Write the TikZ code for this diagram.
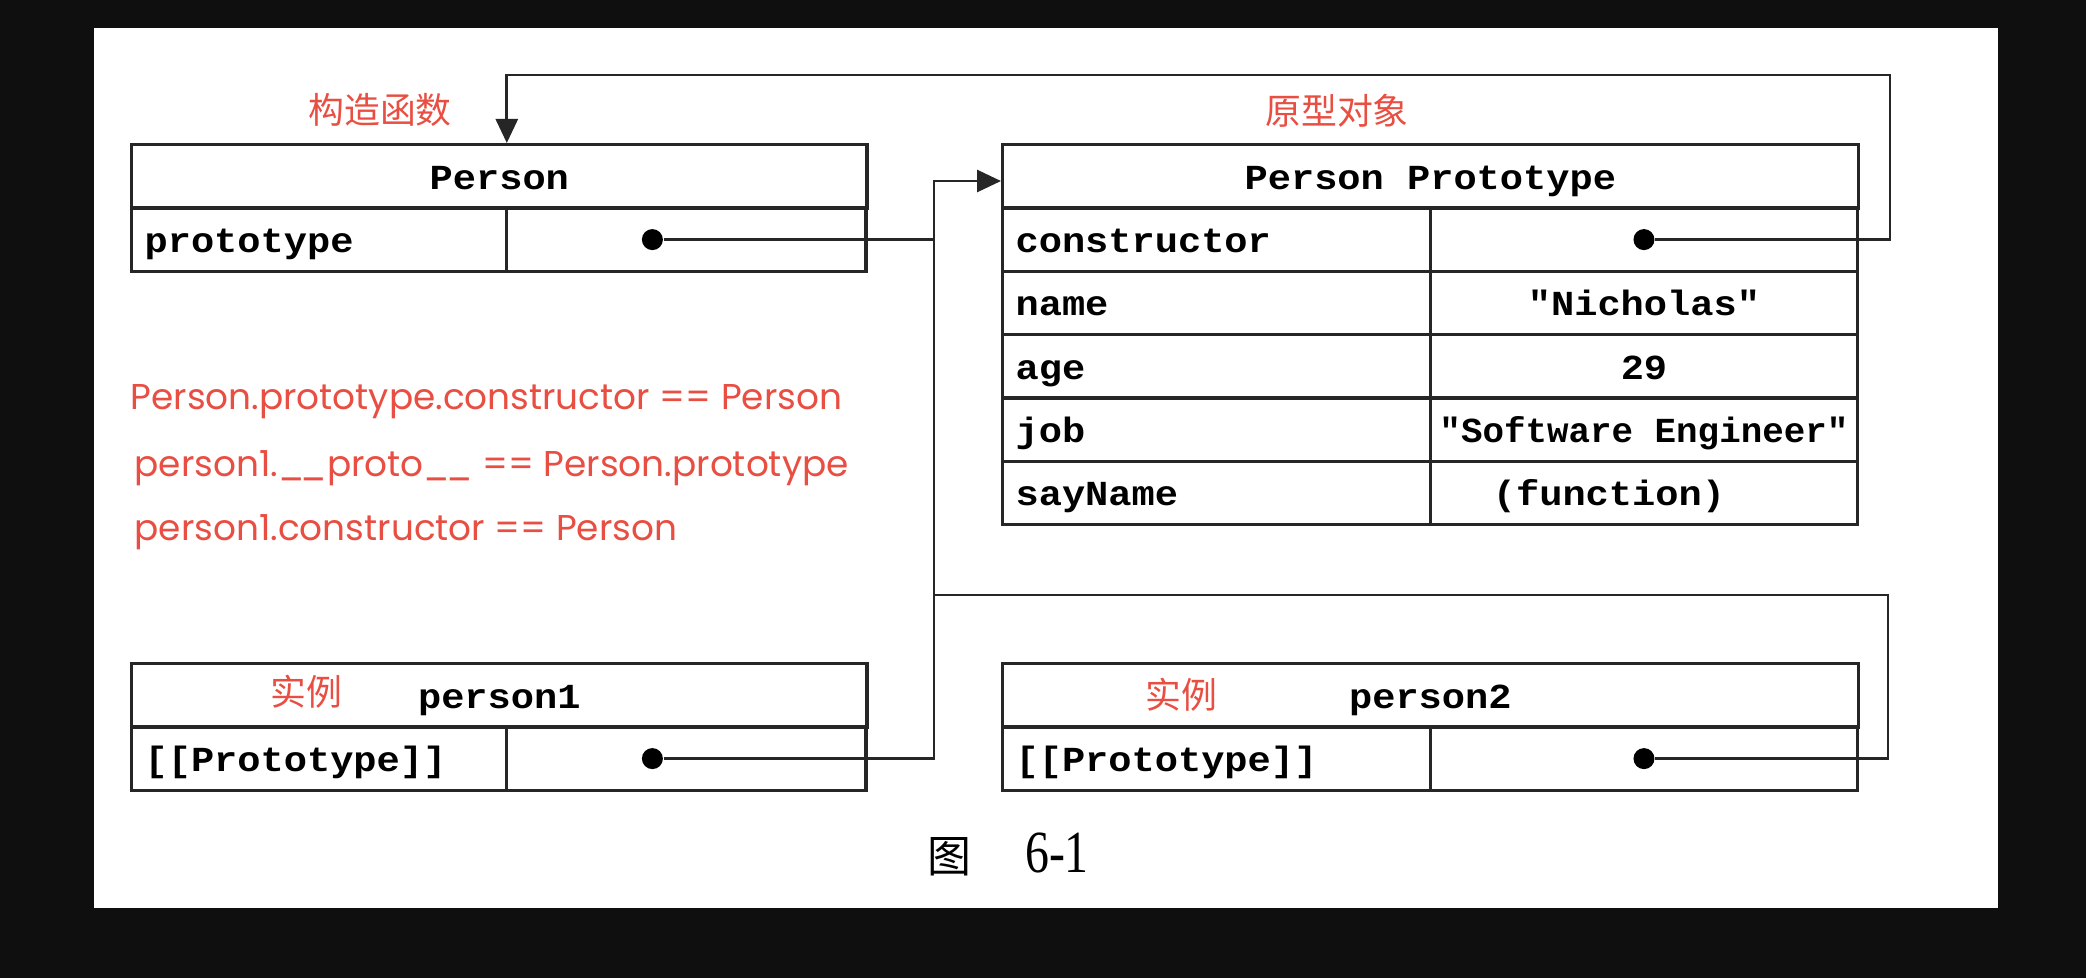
\documentclass[tikz,border=0pt]{standalone}
\usepackage{fontspec}
\newfontfamily\codefont{Liberation Mono}[FakeStretch=1.1]
\newfontfamily\codenarrow{Liberation Mono}[FakeStretch=1.02]
\newfontfamily\notefont{Poppins}
\newfontfamily\cjk{Noto Sans CJK SC}
\newfontfamily\capfont{Liberation Serif}[FakeStretch=0.8]
\usetikzlibrary{matrix,positioning,calc,arrows.meta}
\definecolor{bgdark}{RGB}{15,15,15}
\definecolor{notered}{RGB}{233,78,66}
\newcommand{\codesize}{\fontsize{10}{12}\selectfont}
\tikzset{
objrows/.style 2 args={matrix of nodes,nodes in empty cells,
nodes={draw=black!85,line width=0.9pt,minimum height=0.633cm,inner ysep=0pt,text height=0.3cm,text depth=0.04cm,font=\codefont\bfseries\codesize,anchor=center},
row sep=-0.9pt,column sep=-0.9pt,ampersand replacement=\&,inner sep=0pt,outer sep=0pt,anchor=north west,
column 1/.style={nodes={text width=#1,inner xsep=1.3mm,align=left}},
column 2/.style={nodes={minimum width=#2,inner xsep=0.3mm}}},
hdr/.style={draw=black!85,line width=0.9pt,minimum height=0.633cm,inner sep=0pt,text height=0.3cm,text depth=0.04cm,font=\codefont\bfseries\codesize,anchor=north west},
squeeze/.style={font=\codenarrow\bfseries\codesize},
dot/.style={circle,fill=black,minimum width=0.19cm,minimum height=0.21cm,inner sep=0pt},
link/.style={line width=0.8pt,black!85},
ptr/.style={-{Triangle[length=2.4mm,width=2.2mm]}},
cnnote/.style={font=\cjk\fontsize{10.2}{12}\selectfont,text=notered,inner sep=0pt},
eqnote/.style={font=\notefont\fontsize{10.2}{12}\selectfont,text=notered,inner sep=0pt,anchor=west}
}
\newcommand{\uu}{\_\kern-0.1em\_}

\begin{document}
\begin{tikzpicture}[x=0.01cm,y=-0.01cm]
% page and paper
\fill[bgdark] (0,0) rectangle (2086,978);
\fill[white] (94,28) rectangle (1998,908);

% constructor
\node[hdr,minimum width=7.35cm] (pers) at (130,143) {Person};
\matrix[objrows={3.49cm}{3.59cm}] (pm) at ([yshift=0.9pt]pers.south west) {
prototype \& \\
};
\node[dot,xshift=-0.34cm] (pdot) at (pm-1-2) {};

% prototype object
\node[hdr,minimum width=8.55cm] (proto) at (1001,143) {Person Prototype};
\matrix[objrows={4.02cm}{4.26cm}] (ppm) at ([yshift=0.9pt]proto.south west) {
constructor \& \\
name \& "Nicholas" \\
age \& 29 \\
job \& |[squeeze]| "Software Engineer" \\
sayName \& (function)\hspace*{0.7cm} \\
};
\node[dot] (cdot) at (ppm-1-2) {};

% instances
\node[hdr,minimum width=7.35cm] (p1) at (130,662) {person1};
\matrix[objrows={3.49cm}{3.59cm}] (p1m) at ([yshift=0.9pt]p1.south west) {
{[[Prototype]]} \& \\
};
\node[dot,xshift=-0.34cm] (p1dot) at (p1m-1-2) {};

\node[hdr,minimum width=8.55cm] (p2) at (1001,662) {person2};
\matrix[objrows={4.02cm}{4.26cm}] (p2m) at ([yshift=0.9pt]p2.south west) {
{[[Prototype]]} \& \\
};
\node[dot] (p2dot) at (p2m-1-2) {};

% red notes
\node[cnnote] (ctorlbl) at (380,110) {构造函数};
\node[cnnote] (protolbl) at (1337,111) {原型对象};
\node[cnnote] (inst1) at (306,692) {实例};
\node[cnnote] (inst2) at (1181,695) {实例};
\node[eqnote] (eq1) at (130,402) {Person.prototype.constructor == Person};
\node[eqnote] (eq2) at (134,468) {person1.\uu proto\uu{} == Person.prototype};
\node[eqnote] (eq3) at (134,532) {person1.constructor == Person};

% links
\coordinate (spine) at (934,181);
\coordinate (lowbar) at (1888,595);
\coordinate (topbar) at (1890,75);
\draw[link,ptr] (p1dot) -| (spine) -- (spine -| proto.west);
\draw[link] (pdot) -- (pdot -| spine);
\draw[link] (p2dot) -| (lowbar) -- (lowbar -| spine);
\draw[link,ptr] (cdot) -| (topbar) -| (pm-1-2.west |- pers.north);

\node[inner sep=0pt,font=\capfont\fontsize{17}{20}\selectfont] (cap) at (1008,854) {{\cjk\fontsize{12.5}{14}\selectfont 图}\hspace{0.54cm}6-1};
\end{tikzpicture}
\end{document}
